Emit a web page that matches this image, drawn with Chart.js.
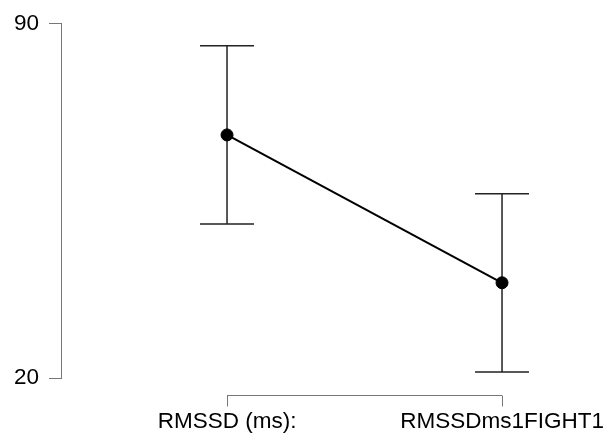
<!DOCTYPE html>
<html>
<head>
<meta charset="utf-8">
<script src="https://cdn.jsdelivr.net/npm/chart.js@4.4.1/dist/chart.umd.min.js"></script>
<style>
  html, body { margin: 0; padding: 0; background: #fff; }
  #wrap { width: 610px; height: 443px; }
</style>
</head>
<body>
<div id="wrap"><canvas id="myChart" width="610" height="443"></canvas></div>
<script>
// data
const categories = ['RMSSD (ms):', 'RMSSDms1FIGHT1'];
const means = [68.0, 38.8];
const errors = [17.6, 17.6];
const yTicks = [20, 90];

const ctx = document.getElementById('myChart').getContext('2d');
const FONT = '"Liberation Sans", Arial, sans-serif';

// error bars + bracket style x axis
const errorBars = {
    id: 'errorBars',
    beforeDatasetsDraw(chart) {
        const c = chart.ctx, x = chart.scales.x, y = chart.scales.y;
        c.save();
        c.strokeStyle = '#222';
        c.lineWidth = 1.5;
        means.forEach((m, i) => {
            const px = x.getPixelForValue(i);
            const top = y.getPixelForValue(m + errors[i]);
            const bot = y.getPixelForValue(m - errors[i]);
            c.beginPath();
            c.moveTo(px, top); c.lineTo(px, bot);
            c.moveTo(px - 27, top); c.lineTo(px + 27, top);
            c.moveTo(px - 27, bot); c.lineTo(px + 27, bot);
            c.stroke();
        });
        c.restore();
    },
    afterDraw(chart) {
        const c = chart.ctx, x = chart.scales.x;
        const x0 = x.getPixelForValue(0), x1 = x.getPixelForValue(categories.length - 1);
        const ay = 395.5;
        c.save();
        c.strokeStyle = '#777';
        c.lineWidth = 1;
        c.beginPath();
        c.moveTo(x0, ay); c.lineTo(x1, ay);
        categories.forEach((_, i) => {
            const px = Math.round(x.getPixelForValue(i)) + 0.5;
            c.moveTo(px, ay); c.lineTo(px, ay + 11);
        });
        c.stroke();
        c.fillStyle = '#000';
        c.font = '22.5px ' + FONT;
        c.textAlign = 'center';
        c.textBaseline = 'middle';
        categories.forEach((lab, i) => {
            c.fillText(lab, x.getPixelForValue(i), 422);
        });
        c.restore();
    }
};

new Chart(ctx, {
    type: 'line',
    data: {
        datasets: [{
            data: means.map((m, i) => ({ x: i, y: m })),
            borderColor: '#000',
            borderWidth: 2,
            pointRadius: 6,
            pointBorderWidth: 1,
            pointBackgroundColor: '#000',
            pointBorderColor: '#000'
        }]
    },
    options: {
        responsive: false,
        animation: false,
        layout: { padding: { left: 4, top: 22, bottom: 65, right: 12 } },
        plugins: { legend: { display: false }, tooltip: { enabled: false } },
        scales: {
            x: {
                type: 'linear',
                display: false,
                min: -0.6036,
                max: 1.349
            },
            y: {
                min: 20,
                max: 90,
                afterBuildTicks: axis => { axis.ticks = yTicks.map(v => ({ value: v })); },
                grid: { drawOnChartArea: false, tickLength: 12, color: '#777' },
                border: { color: '#777' },
                ticks: { padding: 10, color: '#000', font: { size: 22.5, family: FONT } }
            }
        }
    },
    plugins: [errorBars]
});
</script>
</body>
</html>
